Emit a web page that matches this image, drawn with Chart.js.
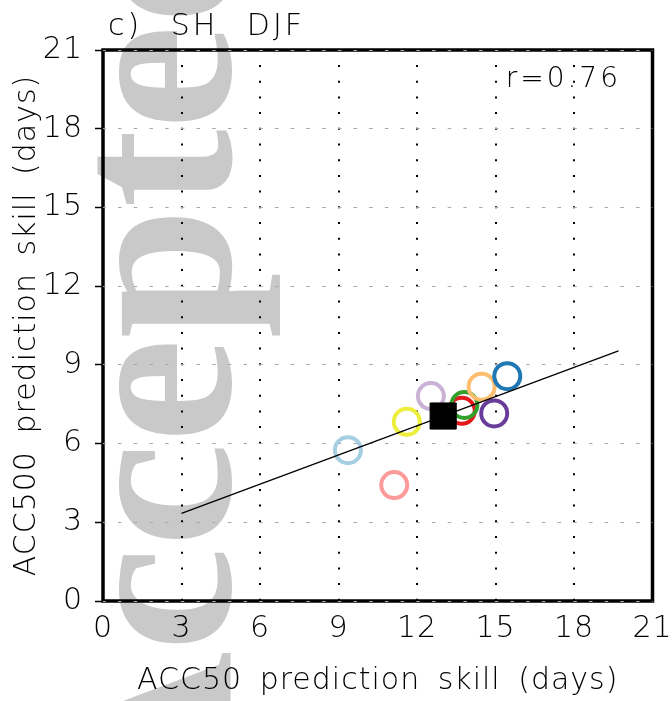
<!DOCTYPE html>
<html>
<head>
<meta charset="utf-8">
<script src="https://cdn.jsdelivr.net/npm/chart.js@4.4.1/dist/chart.umd.min.js"></script>
<style>
  html, body { margin: 0; padding: 0; background: #fff; }
  #wrap { width: 672px; height: 701px; }
</style>
</head>
<body>
<div id="wrap"><canvas id="c" width="672" height="701"></canvas></div>
<script>
// Prediction skill of each model (days): ACC50 on x, ACC500 on y
const skillAcc50  = [9.36, 11.13, 11.61, 12.53, 13.71, 13.81, 14.47, 15.45, 14.95];
const skillAcc500 = [5.75,  4.42,  6.83,  7.81,  7.25,  7.47,  8.17,  8.57,  7.15];
const modelColors = ['#a6cee3', '#fb9a99', '#eeee3c', '#cab2d6', '#e31a1c',
                     '#33a02c', '#fdbf6f', '#1f78b4', '#6a3d9a'];

// Multi-model mean
const meanAcc50  = [13.0];
const meanAcc500 = [7.05];

// Least-squares fit line end points
const fitAcc50  = [3.0, 19.7];
const fitAcc500 = [3.34, 9.53];

const axisTicks   = [0, 3, 6, 9, 12, 15, 18, 21];
const panelTitle  = 'c) SH DJF';
const corrLabel   = 'r=0.76';
const xTitle      = 'ACC50 prediction skill (days)';
const yTitle      = 'ACC500 prediction skill (days)';
const stampText   = 'Accepted';

const FONT = '"DejaVu Sans ExtraLight", "DejaVu Sans", sans-serif';
const labelFont = { family: FONT, size: 30, weight: 200, lineHeight: 1.2 };

function textSpacing(ctx, ls, ws) {
  ctx.letterSpacing = ls;
  ctx.wordSpacing = ws;
}

const decor = {
  id: 'decor',
  beforeUpdate(chart) { textSpacing(chart.ctx, '1px', '7px'); },
  beforeLayout(chart) { textSpacing(chart.ctx, '1px', '7px'); },
  beforeDraw(chart) {
    const ctx = chart.ctx;
    const a = chart.chartArea;
    // grey manuscript stamp behind everything
    ctx.save();
    textSpacing(ctx, '0px', '0px');
    ctx.font = 'bold 235px "Liberation Serif", "Times New Roman", Times, serif';
    ctx.fillStyle = '#c9c9c9';
    ctx.textAlign = 'left';
    ctx.textBaseline = 'alphabetic';
    ctx.translate(230, 821);
    ctx.rotate(-Math.PI / 2);
    ctx.fillText(stampText, 0, 0);
    ctx.restore();
    // plot frame
    ctx.save();
    ctx.strokeStyle = '#000';
    ctx.lineWidth = 3.5;
    ctx.lineJoin = 'miter';
    ctx.strokeRect(a.left, a.top, a.right - a.left, a.bottom - a.top);
    ctx.restore();
    textSpacing(ctx, '1px', '7px');
  },
  afterDraw(chart) {
    const ctx = chart.ctx;
    ctx.save();
    ctx.fillStyle = '#000';
    ctx.textBaseline = 'alphabetic';
    // panel title
    ctx.font = '200 30px ' + FONT;
    textSpacing(ctx, '3px', '16px');
    ctx.textAlign = 'left';
    ctx.fillText(panelTitle, 108, 35);
    // correlation label
    ctx.font = '200 28px ' + FONT;
    textSpacing(ctx, '3px', '0px');
    ctx.textAlign = 'right';
    ctx.fillText(corrLabel, 621, 87);
    ctx.restore();
    textSpacing(ctx, '1px', '7px');
  }
};

const models = skillAcc50.map((x, i) => ({ x, y: skillAcc500[i] }));
const meanPts = meanAcc50.map((x, i) => ({ x, y: meanAcc500[i] }));
const fitPts = fitAcc50.map((x, i) => ({ x, y: fitAcc500[i] }));

function noOverflow(s) {
  s.paddingLeft = 0; s.paddingRight = 0; s.paddingTop = 0; s.paddingBottom = 0;
}

new Chart(document.getElementById('c'), {
  type: 'scatter',
  data: {
    datasets: [
      {
        data: meanPts,
        pointStyle: 'rect',
        pointRadius: 18.5,
        pointBackgroundColor: '#000',
        pointBorderColor: '#000',
        pointBorderWidth: 1,
        order: 0
      },
      {
        data: fitPts,
        showLine: true,
        borderColor: '#000',
        borderWidth: 1.3,
        pointRadius: 0,
        order: 1
      },
      {
        data: models,
        pointStyle: 'circle',
        pointRadius: 13,
        pointBorderWidth: 4,
        pointBorderColor: modelColors,
        pointBackgroundColor: 'rgba(0,0,0,0)',
        order: 2
      }
    ]
  },
  options: {
    responsive: false,
    animation: false,
    events: [],
    layout: { padding: { top: 50, right: 17, left: 0, bottom: 0 } },
    plugins: { legend: { display: false }, tooltip: { enabled: false }, title: { display: false } },
    scales: {
      x: {
        type: 'linear',
        min: 0, max: 21,
        afterBuildTicks(s) { s.ticks = axisTicks.map(v => ({ value: v })); },
        afterFit(s) { s.height = 100; noOverflow(s); },
        ticks: { color: '#000', font: labelFont, padding: 10, maxRotation: 0, autoSkip: false },
        grid: { color: '#000', lineWidth: 2, drawTicks: false },
        border: { display: false, dash: [2, 13.7], dashOffset: 0.7 },
        title: { display: true, text: xTitle, color: '#000', font: labelFont, padding: { top: 0, bottom: 2 } }
      },
      y: {
        type: 'linear',
        min: 0, max: 21,
        afterBuildTicks(s) { s.ticks = axisTicks.map(v => ({ value: v })); },
        afterFit(s) { s.width = 103; noOverflow(s); },
        ticks: { color: '#000', font: labelFont, padding: 12, autoSkip: false },
        grid: { color: '#a8a8a8', lineWidth: 1, drawTicks: true, tickLength: 8,
                tickColor: '#000', tickWidth: 1.5, tickBorderDash: [] },
        border: { display: false, dash: [3.5, 12.2], dashOffset: 0.7 },
        title: { display: true, text: yTitle, color: '#000', font: labelFont, padding: { top: 9, bottom: 0 } }
      }
    }
  },
  plugins: [decor]
});
</script>
</body>
</html>
